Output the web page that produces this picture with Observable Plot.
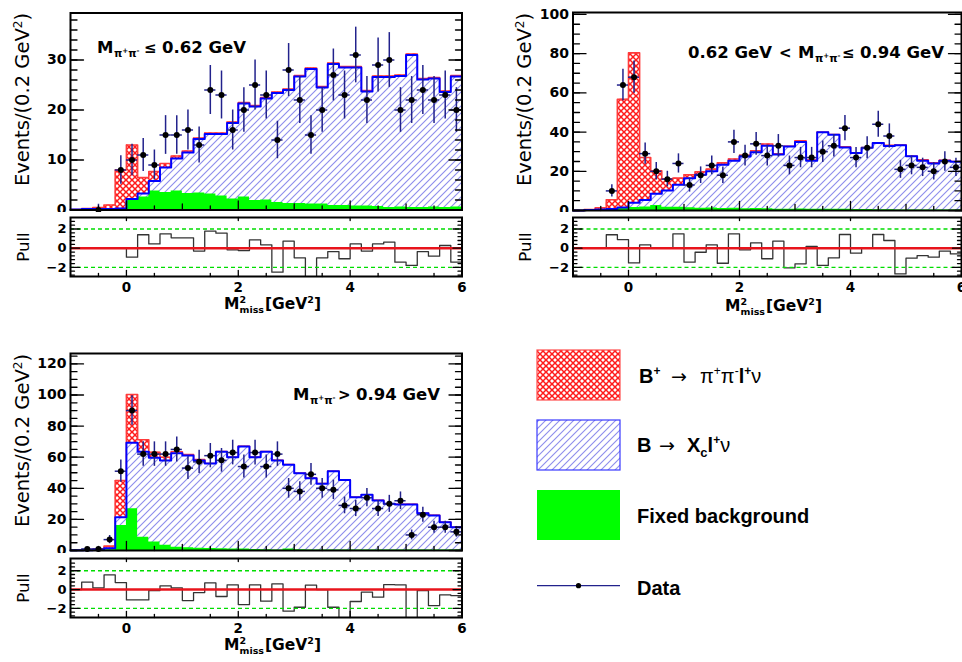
<!DOCTYPE html>
<html>
<head>
<meta charset="utf-8">
<script src="https://cdn.jsdelivr.net/npm/d3@7"></script>
<script src="https://cdn.jsdelivr.net/npm/@observablehq/plot@0.6"></script>
<style>
  html, body { margin: 0; padding: 0; background: #fff; }
  #root { position: relative; width: 962px; height: 662px; overflow: hidden; background: #fff; }
  #root svg.plotsvg { position: absolute; }
</style>
</head>
<body>
<div id="root">
<svg id="overlay" width="962" height="662" style="position:absolute;left:0;top:0;pointer-events:none;z-index:5">
  <defs>
    <pattern id="xhatchRed" patternUnits="userSpaceOnUse" width="6" height="6">
      <rect width="6" height="6" style="fill:#ffffff;stroke:none"/>
      <path d="M0,0L6,6M6,0L0,6" style="fill:none;stroke:#ff1a1a;stroke-width:1.5"/>
    </pattern>
    <pattern id="hatchBlue" patternUnits="userSpaceOnUse" width="7" height="7">
      <rect width="7" height="7" style="fill:#ffffff;stroke:none"/>
      <line x1="0" y1="7" x2="7" y2="0" style="stroke:#8c8cec;stroke-width:1.1;fill:none"/>
      <line x1="-1" y1="1" x2="1" y2="-1" style="stroke:#8c8cec;stroke-width:1.1;fill:none"/>
      <line x1="6" y1="8" x2="8" y2="6" style="stroke:#8c8cec;stroke-width:1.1;fill:none"/>
    </pattern>
  </defs>
  <g font-family="DejaVu Sans, Verdana, sans-serif" fill="#000">
    <!-- y titles -->
    <text transform="translate(29,13) rotate(-90)" text-anchor="end" font-size="19.5">Events/(0.2 GeV<tspan dy="-7" font-size="12">2</tspan><tspan dy="7">)</tspan></text>
    <text transform="translate(531,13) rotate(-90)" text-anchor="end" font-size="19.5">Events/(0.2 GeV<tspan dy="-7" font-size="12">2</tspan><tspan dy="7">)</tspan></text>
    <text transform="translate(29,354) rotate(-90)" text-anchor="end" font-size="19.5">Events/(0.2 GeV<tspan dy="-7" font-size="12">2</tspan><tspan dy="7">)</tspan></text>
    <text transform="translate(29,247) rotate(-90)" text-anchor="middle" font-size="16.5">Pull</text>
    <text transform="translate(531,247) rotate(-90)" text-anchor="middle" font-size="16.5">Pull</text>
    <text transform="translate(29,588) rotate(-90)" text-anchor="middle" font-size="16.5">Pull</text>

    <!-- x titles -->
    <text x="224" y="309" font-size="15.5" font-weight="bold">M<tspan dy="-6.5" font-size="9.5">2</tspan><tspan x="239.5" dy="10.5" font-size="9.5">miss</tspan><tspan x="265" dy="-4" font-size="15.5">[GeV</tspan><tspan dy="-6.5" font-size="9.5">2</tspan><tspan dy="6.5" font-size="15.5">]</tspan></text>
    <text x="725" y="311" font-size="15.5" font-weight="bold">M<tspan dy="-6.5" font-size="9.5">2</tspan><tspan x="740.5" dy="10.5" font-size="9.5">miss</tspan><tspan x="766" dy="-4" font-size="15.5">[GeV</tspan><tspan dy="-6.5" font-size="9.5">2</tspan><tspan dy="6.5" font-size="15.5">]</tspan></text>
    <text x="224" y="650" font-size="15.5" font-weight="bold">M<tspan dy="-6.5" font-size="9.5">2</tspan><tspan x="239.5" dy="10.5" font-size="9.5">miss</tspan><tspan x="265" dy="-4" font-size="15.5">[GeV</tspan><tspan dy="-6.5" font-size="9.5">2</tspan><tspan dy="6.5" font-size="15.5">]</tspan></text>

    <!-- panel labels -->
    <text x="97" y="53.3" font-size="16.5" font-weight="bold">M<tspan x="114" dy="4" font-size="10.5">π</tspan><tspan dy="-4" font-size="7">+</tspan><tspan dy="4" font-size="10.5">π</tspan><tspan dy="-4" font-size="7">-</tspan><tspan x="144" dy="0" font-size="15">≤</tspan><tspan x="162" font-size="16.5">0.62 GeV</tspan></text>
    <text x="688" y="58.3" font-size="16.5" font-weight="bold">0.62 GeV<tspan x="779" font-size="15">&lt;</tspan><tspan x="798" font-size="16.5">M</tspan><tspan x="815" dy="4" font-size="10.5">π</tspan><tspan dy="-4" font-size="7">+</tspan><tspan dy="4" font-size="10.5">π</tspan><tspan dy="-4" font-size="7">-</tspan><tspan x="842" font-size="15">≤</tspan><tspan x="860" font-size="16.5">0.94 GeV</tspan></text>
    <text x="293" y="400" font-size="16.5" font-weight="bold">M<tspan x="310" dy="4" font-size="10.5">π</tspan><tspan dy="-4" font-size="7">+</tspan><tspan dy="4" font-size="10.5">π</tspan><tspan dy="-4" font-size="7">-</tspan><tspan x="338" font-size="15">&gt;</tspan><tspan x="356" font-size="16.5">0.94 GeV</tspan></text>
  </g>

  <!-- legend -->
  <g font-family="Liberation Sans, Arial, Helvetica, sans-serif" fill="#000">
    <rect x="537" y="350" width="83" height="50" fill="url(#xhatchRed)" stroke="#ff4d4d" stroke-width="1.2"/>
    <rect x="537" y="420" width="83" height="50" fill="url(#hatchBlue)" stroke="#3a3aff" stroke-width="1.2"/>
    <rect x="537" y="490" width="83" height="50" fill="#00ff00"/>
    <line x1="537" x2="620" y1="585.7" y2="585.7" stroke="#22228c" stroke-width="1.2"/>
    <circle cx="578.5" cy="585.7" r="2.6" fill="#000"/>

    <text x="639" y="383" font-size="20" font-weight="bold">B<tspan dy="-8" font-size="12">+</tspan><tspan x="671" dy="8" font-size="19" font-weight="normal" font-family="DejaVu Sans, sans-serif">→</tspan><tspan x="700" font-size="20" font-weight="normal">π</tspan><tspan dy="-8" font-size="12" font-weight="normal">+</tspan><tspan dy="8" font-size="20" font-weight="normal">π</tspan><tspan dy="-8" font-size="12" font-weight="normal">-</tspan><tspan dy="8" font-size="20">l</tspan><tspan dy="-8" font-size="12">+</tspan><tspan dy="8" font-size="20" font-weight="normal">ν</tspan></text>
    <text x="637" y="452" font-size="20" font-weight="bold">B<tspan x="659" font-size="19" font-weight="normal" font-family="DejaVu Sans, sans-serif">→</tspan><tspan x="687" font-size="20">X</tspan><tspan dy="5" font-size="13">c</tspan><tspan dy="-5" font-size="20">l</tspan><tspan dy="-8" font-size="12">+</tspan><tspan dy="8" font-size="20" font-weight="normal">ν</tspan></text>
    <text x="637" y="523" font-size="20" font-weight="bold">Fixed background</text>
    <text x="637" y="595" font-size="20" font-weight="bold">Data</text>
  </g>
</svg>
</div>

<script>
// ---------- binning ----------
const binLow = [-1.0, -0.8, -0.6, -0.4, -0.2, 0.0, 0.2, 0.4, 0.6, 0.8, 1.0, 1.2, 1.4, 1.6, 1.8, 2.0, 2.2, 2.4, 2.6, 2.8,
                3.0, 3.2, 3.4, 3.6, 3.8, 4.0, 4.2, 4.4, 4.6, 4.8, 5.0, 5.2, 5.4, 5.6, 5.8];
const binWidth = 0.2;
const xMin = -1, xMax = 6;
const xLabelTicks = [0, 2, 4, 6];
const pullLabelTicks = [-2, 0, 2];

// ---------- panel 1: M(pi pi) <= 0.62 GeV ----------
const p1Total = [0.1, 0.3, 0.5, 1.0, 8.0, 13.0, 6.5, 7.7, 9.3, 10.8, 11.8, 14.4, 15.4, 15.4, 17.6, 21.5, 20.9, 22.5, 23.6, 24.2,
                 26.9, 28.4, 24.7, 29.4, 28.7, 28.7, 23.9, 26.8, 26.8, 27.0, 31.2, 26.3, 26.5, 23.8, 26.9];
const p1Xc    = [0.1, 0.2, 0.2, 0.2, 0.3, 2.2, 3.3, 5.8, 8.5, 10.3, 11.5, 14.2, 15.2, 15.2, 17.4, 21.3, 20.7, 22.3, 23.4, 24.0,
                 26.7, 28.2, 24.5, 29.2, 28.5, 28.5, 23.7, 26.6, 26.6, 26.8, 31.0, 26.1, 26.3, 23.6, 26.7];
const p1Bkg   = [0.05, 0.1, 0.1, 0.1, 0.2, 2.1, 2.6, 3.8, 3.5, 3.8, 3.3, 3.4, 3.2, 2.8, 2.2, 2.6, 1.9, 2.0, 1.5, 1.3,
                 1.3, 1.2, 1.2, 0.9, 0.9, 0.8, 0.8, 0.7, 0.5, 0.6, 0.5, 0.5, 0.6, 0.5, 0.6];
const p1Data  = [null, null, 0, null, 8, 10, 11, 9, 15, 15, 16, 13, 24, 23, 16, 20, 25, 23, 14, 28,
                 22, 15, 20, 27, 23, 31, 22, 29, 30, 20, 22, 24, 22, 23, 20];
const p1Pull  = [0, 0, 0, 0, 0, -0.94, 1.4, 0.45, 1.5, 1.08, 1.08, -0.3, 1.77, 1.57, -0.17, -0.25, 0.87, 0.35, -2.5, 0.73,
                 -1.0, -3.5, -1.0, -0.35, -1.1, 0.45, -0.3, 0.45, 0.63, -1.46, -1.8, -0.35, -0.83, 0.28, -1.46];
const p1YLabels = [0, 10, 20, 30];

// ---------- panel 2: 0.62 < M(pi pi) <= 0.94 GeV ----------
const p2Total = [0, 0.5, 1.4, 5.5, 56.7, 80.4, 27.0, 20.2, 16.2, 16.5, 18.2, 19.8, 21.1, 24.3, 26.3, 28.2, 30.4, 33.9, 28.9, 32.8,
                 35.6, 25.7, 40.0, 38.8, 32.5, 29.4, 32.1, 34.5, 33.2, 33.5, 27.8, 25.8, 24.3, 25.6, 25.0];
const p2Xc    = [0, 0.2, 0.5, 0.8, 1.5, 3.9, 5.4, 8.5, 10.2, 13.1, 16.5, 18.3, 20.0, 23.4, 25.4, 27.5, 29.7, 33.0, 28.6, 32.6,
                 35.0, 25.4, 39.9, 38.7, 32.2, 29.3, 32.0, 34.4, 32.9, 33.3, 27.7, 25.4, 24.0, 25.4, 24.9];
const p2Bkg   = [0, 0.1, 0.2, 0.5, 1.2, 1.5, 1.8, 2.5, 1.6, 1.6, 1.4, 1.2, 1.3, 1.0, 1.1, 0.9, 1.0, 0.9, 0.7, 0.7,
                 0.8, 0.6, 0.7, 0.6, 0.6, 0.5, 0.5, 0.4, 0.4, 0.3, 0.3, 0.3, 0.3, 0.3, 0.3];
const p2Data  = [null, null, null, 10, 64, 68, 29, 20, 16, 24, 13, 18, 23, 18, 35, 28, 34, 28, 33, 23,
                 27, 27, 30, 33, 42, 27, 32, 44, 38, 21, 23, 22, 20, 25, 22];
const p2Pull  = [0, 0, 0, 1.4, 0.9, -1.53, 0.35, 0, 0, 1.5, -1.46, -0.42, 0.35, -1.57, 1.5, -0.17, 0.56, -1.1, 0.73, -2.05,
                 -1.63, 0.2, -1.8, -1.0, 1.43, -0.52, 0, 1.43, 0.8, -2.68, -1.04, -0.77, -0.94, -0.31, -0.6];
const p2YLabels = [0, 20, 40, 60, 80, 100];

// ---------- panel 3: M(pi pi) > 0.94 GeV ----------
const p3Total = [0.3, 0.3, 0.9, 2.8, 45.0, 100.3, 71.2, 63.2, 60.0, 63.5, 61.7, 58.5, 56.0, 63.6, 60.1, 67.0, 60.1, 63.6, 58.0, 55.2,
                 49.8, 46.6, 43.0, 51.1, 45.5, 34.4, 35.9, 32.3, 30.1, 29.7, 29.7, 24.1, 22.6, 18.3, 15.1];
const p3Xc    = [0.2, 0.2, 0.7, 1.5, 21.4, 69.3, 63.5, 59.6, 57.9, 62.6, 61.1, 57.9, 55.9, 63.5, 60.0, 66.9, 60.0, 63.5, 57.9, 55.1,
                 49.7, 46.5, 42.9, 51.0, 45.4, 34.3, 35.8, 32.2, 30.0, 29.6, 29.6, 24.0, 22.5, 18.2, 15.0];
const p3Bkg   = [0.2, 0.2, 0.3, 0.5, 16.1, 26.8, 8.6, 5.4, 3.4, 2.1, 1.7, 1.5, 1.3, 1.1, 1.0, 1.0, 0.6, 0.5, 0.4, 1.0,
                 0.5, 0.4, 0.4, 0.3, 0.3, 0.3, 0.3, 0.3, 0.3, 0.3, 0.3, 0.3, 0.3, 0.3, 0.3];
const p3Data  = [null, 1, 1, 7, 51, 90, 62, 62, 62, 65, 53, 57, 61, 58, 63, 54, 63, 54, 62, 40,
                 38, 49, 40, 39, 29, 27, 34, 27, 30, 32, 10, 23, 15, 15, 12];
const p3Pull  = [0, 0.78, 0.18, 1.56, 0.74, -1.1, -1.1, -0.1, 0.39, 0.18, -1.17, -0.32, 0.7, -0.74, 0.5, -1.6, 0.5, -1.24, 0.6, -2.3,
                 -1.88, 0.46, 0, -1.88, -3.5, -1.27, -0.28, -0.81, 0.53, 0.5, -3.5, -0.1, -1.7, -0.57, -0.64];
const p3YLabels = [0, 20, 40, 60, 80, 100, 120];

// ---------- styling ----------
const PANEL_FONT = "DejaVu Sans, Verdana, sans-serif";
const NAVY = "#22228c";
const fmt = d => (d < 0 ? "\u2212" + Math.abs(d) : String(d));

function stepRows(vals) {
  const rows = binLow.map((x, i) => ({x, v: vals[i]}));
  rows.push({x: binLow[binLow.length - 1] + binWidth, v: vals[vals.length - 1]});
  return rows;
}
function dataRows(vals) {
  return binLow.map((lo, i) => ({a: lo, b: lo + binWidth, c: lo + binWidth / 2, n: vals[i]}))
    .filter(d => d.n != null)
    .map(d => ({...d, lo: Math.max(0, d.n - Math.sqrt(d.n)), hi: d.n + (d.n === 0 ? 1.15 : Math.sqrt(d.n))}));
}
const tickShape = {draw(ctx, l) { ctx.moveTo(0, 0); ctx.lineTo(0, -l); }};
function ticks(values, anchor, len, sw = 1.3) {
  const rot = {left: 90, right: -90, bottom: 0, top: 180}[anchor];
  const ch = (anchor === "left" || anchor === "right") ? {y: d => d} : {x: d => d};
  return Plot.vector(values, {...ch, frameAnchor: anchor, rotate: rot, length: len, anchor: "start",
    shape: tickShape, stroke: "black", strokeWidth: sw});
}
const xEven = [0, 2, 4, 6];
const xOdd = [1, 3, 5];
const xHalf = [-0.5, 0.5, 1.5, 2.5, 3.5, 4.5, 5.5];

function mainPlot(cfg) {
  const tot = stepRows(cfg.total), xc = stepRows(cfg.xc), bk = stepRows(cfg.bkg), dr = dataRows(cfg.data);
  const yMinor = d3.range(0, cfg.yMax, cfg.minorStep);
  return Plot.plot({
    width: cfg.width, height: cfg.height,
    marginLeft: cfg.ml, marginRight: cfg.mr, marginTop: cfg.mt, marginBottom: cfg.mb,
    x: {domain: [xMin, xMax], axis: null},
    y: {domain: [0, cfg.yMax]},
    style: {fontFamily: PANEL_FONT, background: "white", overflow: "visible"},
    marks: [
      Plot.areaY(tot, {x: "x", y: "v", curve: "step-after", fill: "url(#xhatchRed)"}),
      Plot.line(tot, {x: "x", y: "v", curve: "step-after", stroke: "#ff3b3b", strokeWidth: 1.6}),
      Plot.areaY(xc, {x: "x", y: "v", curve: "step-after", fill: "url(#hatchBlue)"}),
      Plot.areaY(bk, {x: "x", y: "v", curve: "step-after", fill: "#00ff00"}),
      Plot.line(xc, {x: "x", y: "v", curve: "step-after", stroke: "#0000ff", strokeWidth: 2}),
      Plot.ruleX(dr, {x: "c", y1: "lo", y2: "hi", stroke: NAVY, strokeWidth: 1.5}),
      Plot.ruleY(dr, {y: "n", x1: "a", x2: "b", stroke: NAVY, strokeWidth: 1.5}),
      Plot.dot(dr, {x: "c", y: "n", r: 3, fill: "black", stroke: "none"}),
      Plot.frame({stroke: "black", strokeWidth: 2}),
      ticks(cfg.yLabels, "left", 13), ticks(yMinor, "left", 6.5),
      ticks(cfg.yLabels, "right", 13), ticks(yMinor, "right", 6.5),
      ticks(xEven, "bottom", 9), ticks(xOdd, "bottom", 6), ticks(xHalf, "bottom", 4),
      Plot.axisY({ticks: cfg.yLabels, tickSize: 0, tickPadding: 4, tickFormat: fmt, fontSize: 14, fontWeight: "bold", label: null})
    ]
  });
}

function pullPlot(cfg) {
  const pr = stepRows(cfg.pull);
  const yMinor = [-2.8, -2.4, -1.6, -1.2, -0.8, -0.4, 0.4, 0.8, 1.2, 1.6, 2.4, 2.8];
  return Plot.plot({
    width: cfg.width, height: cfg.height,
    marginLeft: cfg.ml, marginRight: cfg.mr, marginTop: cfg.mt, marginBottom: cfg.mb,
    x: {domain: [xMin, xMax]},
    y: {domain: cfg.yDomain},
    style: {fontFamily: PANEL_FONT, background: "white", overflow: "visible"},
    marks: [
      Plot.line(pr, {x: "x", y: "v", curve: "step-after", stroke: "#333333", strokeWidth: 1.3, clip: true}),
      Plot.ruleY([2, -2], {stroke: "#00dd00", strokeWidth: 1.4, strokeDasharray: "4,3"}),
      Plot.ruleY([0], {stroke: "#e8141c", strokeWidth: 2.5}),
      Plot.frame({stroke: "black", strokeWidth: 2}),
      ticks(pullLabelTicks, "left", 9), ticks(yMinor, "left", 4),
      ticks(pullLabelTicks, "right", 9), ticks(yMinor, "right", 4),
      ticks(xEven, "top", 3), ticks(xEven, "bottom", 6), ticks(xHalf, "bottom", 3),
      Plot.axisY({ticks: pullLabelTicks, tickSize: 0, tickPadding: 4, tickFormat: fmt, fontSize: 13, fontWeight: "bold", label: null}),
      Plot.axisX({ticks: xLabelTicks, tickSize: 0, tickPadding: 6, tickFormat: fmt, fontSize: 13.5, fontWeight: "bold", label: null})
    ]
  });
}

const root = document.getElementById("root");
const overlay = document.getElementById("overlay");
function place(svg, left, top) {
  svg.classList.add("plotsvg");
  svg.style.position = "absolute";
  svg.style.left = left + "px";
  svg.style.top = top + "px";
  root.insertBefore(svg, overlay);
}

// panel 1
place(mainPlot({total: p1Total, xc: p1Xc, bkg: p1Bkg, data: p1Data, yMax: 39.4, yLabels: p1YLabels, minorStep: 2,
  width: 480, height: 216, ml: 70, mr: 18.5, mt: 12.5, mb: 6.5}), 0, 0);
place(pullPlot({pull: p1Pull, yDomain: [-2.95, 3.2], width: 480, height: 108, ml: 70, mr: 18.5, mt: 5, mb: 44}), 0, 212);

// panel 2
place(mainPlot({total: p2Total, xc: p2Xc, bkg: p2Bkg, data: p2Data, yMax: 101, yLabels: p2YLabels, minorStep: 5,
  width: 482, height: 216, ml: 92.5, mr: 1, mt: 12, mb: 6}), 480, 0);
place(pullPlot({pull: p2Pull, yDomain: [-2.95, 3.2], width: 482, height: 108, ml: 92.5, mr: 1, mt: 5, mb: 44}), 480, 212);

// panel 3
place(mainPlot({total: p3Total, xc: p3Xc, bkg: p3Bkg, data: p3Data, yMax: 126.7, yLabels: p3YLabels, minorStep: 5,
  width: 480, height: 226, ml: 70, mr: 18.5, mt: 23, mb: 6}), 0, 330);
place(pullPlot({pull: p3Pull, yDomain: [-2.97, 3.3], width: 480, height: 109, ml: 70, mr: 18.5, mt: 5, mb: 45}), 0, 553);
</script>
</body>
</html>
